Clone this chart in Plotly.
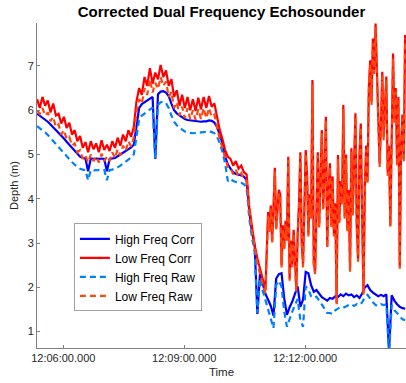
import pandas as pd
import plotly.graph_objects as go

# High-frequency channel: one ping every 4 s
t0 = pd.Timestamp("2021-06-15 12:05:21")
times = [t0 + pd.Timedelta(seconds=4 * i) for i in range(138)]

# Low-frequency channel: 4 s pings until 12:11:01, then 2 s pings
t_fine = pd.Timestamp("2021-06-15 12:11:05")
times_low = times[:86] + [t_fine + pd.Timedelta(seconds=2 * j) for j in range(103)]

high_freq_corr = [
    5.92, 5.88, 5.84, 5.79, 5.74, 5.68, 5.62, 5.56, 5.50, 5.43,
    5.36, 5.29, 5.22, 5.14, 5.07, 5.00, 4.95, 4.92, 4.91, 4.62,
    4.91, 4.90, 4.91, 4.90, 4.91, 4.90, 4.62, 4.90, 4.91, 4.92,
    4.96, 5.00, 5.04, 5.08, 5.12, 5.16, 5.22, 5.70, 6.05, 6.14,
    6.18, 6.22, 6.27, 6.30, 4.90, 6.36, 6.42, 6.43, 6.40, 6.32,
    6.15, 6.00, 5.93, 5.88, 5.84, 5.80, 5.78, 5.77, 5.76, 5.75,
    5.74, 5.74, 5.75, 5.75, 5.77, 5.76, 5.72, 5.62, 5.45, 5.25,
    4.95, 4.78, 4.68, 4.60, 4.56, 4.55, 4.53, 4.50, 4.42, 3.70,
    3.25, 2.95, 1.40, 2.32, 2.05, 1.85, 1.72, 1.58, 1.36, 2.20,
    2.30, 2.32, 1.75, 1.38, 1.55, 1.68, 1.85, 2.02, 1.56, 1.72,
    2.35, 2.32, 2.05, 1.90, 1.94, 1.86, 1.78, 1.74, 1.70, 1.76,
    1.74, 1.80, 1.78, 1.84, 1.80, 1.86, 1.82, 1.84, 1.78, 1.82,
    1.76, 1.86, 2.00, 2.05, 1.94, 1.88, 1.84, 1.80, 1.83, 1.80,
    1.84, 0.55, 1.82, 1.70, 1.62, 1.56, 1.53, 1.52,
]

high_freq_raw = [
    5.64, 5.60, 5.55, 5.50, 5.44, 5.37, 5.30, 5.23, 5.16, 5.09,
    5.02, 4.95, 4.89, 4.83, 4.77, 4.72, 4.68, 4.66, 4.65, 4.42,
    4.65, 4.64, 4.65, 4.65, 4.64, 4.65, 4.42, 4.65, 4.66, 4.68,
    4.71, 4.75, 4.79, 4.84, 4.88, 4.93, 5.00, 5.40, 5.80, 5.88,
    5.93, 5.98, 6.03, 6.06, 4.90, 6.12, 6.18, 6.19, 6.16, 6.05,
    5.88, 5.74, 5.66, 5.60, 5.56, 5.52, 5.50, 5.49, 5.48, 5.48,
    5.49, 5.50, 5.51, 5.51, 5.52, 5.51, 5.48, 5.40, 5.26, 5.06,
    4.80, 4.40, 4.45, 4.40, 4.38, 4.36, 4.36, 4.33, 4.25, 3.55,
    3.12, 2.80, 1.42, 2.20, 1.92, 1.70, 1.52, 1.30, 1.08, 2.05,
    2.15, 2.02, 1.45, 1.11, 1.30, 1.45, 1.60, 1.74, 1.26, 1.11,
    2.02, 1.95, 1.80, 1.76, 1.79, 1.70, 1.64, 1.52, 1.42, 1.42,
    1.40, 1.48, 1.52, 1.55, 1.54, 1.58, 1.60, 1.62, 1.58, 1.62,
    1.60, 1.66, 1.78, 1.83, 1.74, 1.66, 1.60, 1.58, 1.62, 1.60,
    1.62, 0.50, 1.60, 1.48, 1.42, 1.36, 1.28, 1.26,
]

low_freq_corr = [
    # 4 s pings
    6.25, 6.05, 6.30, 6.10, 6.22, 5.95, 6.15, 5.88, 5.92, 5.70,
    5.85, 5.60, 5.72, 5.45, 5.55, 5.30, 5.42, 5.15, 5.28, 5.05,
    5.30, 5.12, 5.25, 5.05, 5.32, 5.10, 5.22, 5.08, 5.30, 5.15,
    5.38, 5.20, 5.45, 5.30, 5.55, 5.40, 5.62, 6.20, 6.50, 6.35,
    6.75, 6.55, 6.95, 6.60, 6.85, 6.70, 7.02, 6.75, 6.90, 6.55,
    6.70, 6.30, 6.45, 6.10, 6.35, 6.05, 6.30, 6.00, 6.25, 5.98,
    6.28, 6.02, 6.30, 6.05, 6.32, 6.08, 6.15, 5.85, 5.55, 5.35,
    5.10, 4.95, 4.90, 4.75, 4.85, 4.68, 4.75, 4.60, 4.55, 3.80,
    3.35, 2.95, 2.65, 2.40, 2.15, 1.95,
    # 2 s pings
    3.70, 3.30, 3.85, 3.05, 3.80, 4.70, 3.35, 3.70, 4.20, 4.10,
    2.50, 3.40, 2.90, 3.50, 3.10, 4.95, 2.20, 3.05, 2.50, 3.30,
    2.60, 1.95, 3.20, 3.90, 5.05, 3.05, 2.50, 3.80, 5.10, 4.55,
    3.20, 4.10, 3.60, 6.68, 2.55, 2.35, 3.90, 5.05, 3.40, 4.30,
    5.55, 3.80, 4.60, 5.85, 2.92, 4.20, 4.80, 3.40, 4.50, 3.20,
    3.90, 1.65, 4.99, 3.50, 4.40, 3.90, 6.12, 3.60, 5.00, 3.30,
    4.20, 2.39, 5.14, 3.70, 4.60, 5.93, 3.40, 2.62, 5.00, 5.70,
    3.60, 1.87, 4.30, 5.20, 4.40, 6.53, 7.13, 6.20, 7.62, 6.90,
    7.96, 6.98, 5.60, 4.80, 5.70, 6.87, 5.40, 6.00, 6.76, 4.60,
    5.20, 3.40, 5.60, 7.28, 5.80, 6.50, 4.80, 6.30, 2.47, 5.20,
    5.90, 4.90, 7.70,
]

low_freq_raw = [
    # 4 s pings
    6.00, 5.92, 6.05, 5.88, 5.95, 5.75, 5.85, 5.62, 5.68, 5.45,
    5.55, 5.35, 5.40, 5.20, 5.25, 5.05, 5.10, 4.90, 4.98, 4.82,
    5.00, 4.85, 4.95, 4.82, 5.02, 4.85, 4.95, 4.85, 5.05, 4.92,
    5.12, 4.98, 5.20, 5.08, 5.30, 5.18, 5.38, 5.95, 6.25, 6.15,
    6.50, 6.35, 6.70, 6.40, 6.62, 6.48, 6.75, 6.55, 6.65, 6.30,
    6.42, 6.05, 6.18, 5.88, 6.08, 5.82, 6.05, 5.80, 6.00, 5.78,
    6.02, 5.80, 6.05, 5.82, 6.05, 5.85, 5.90, 5.62, 5.35, 5.15,
    4.92, 4.72, 4.70, 4.55, 4.65, 4.50, 4.58, 4.45, 4.40, 3.72,
    3.28, 2.88, 2.55, 2.30, 2.05, 1.85,
    # 2 s pings
    3.62, 3.25, 3.78, 3.00, 3.72, 4.62, 3.30, 3.62, 4.12, 4.02,
    2.45, 3.32, 2.85, 3.42, 3.05, 4.88, 2.15, 2.98, 2.45, 3.22,
    2.55, 1.90, 3.12, 3.82, 4.98, 3.00, 2.45, 3.72, 5.02, 4.48,
    3.15, 4.02, 3.55, 6.58, 2.50, 2.30, 3.82, 4.98, 3.35, 4.22,
    5.48, 3.72, 4.52, 5.78, 2.88, 4.12, 4.72, 3.35, 4.42, 3.15,
    3.82, 1.62, 4.90, 3.45, 4.32, 3.85, 6.02, 3.55, 4.92, 3.25,
    4.12, 2.35, 5.06, 3.62, 4.52, 5.85, 3.35, 2.58, 4.92, 5.62,
    3.55, 1.82, 4.22, 5.12, 4.32, 6.45, 7.05, 6.12, 7.52, 6.82,
    7.88, 6.90, 5.52, 4.72, 5.62, 6.78, 5.32, 5.92, 6.68, 4.52,
    5.12, 3.35, 5.52, 7.18, 5.72, 6.42, 4.72, 6.22, 2.42, 5.12,
    5.82, 4.82, 7.62,
]

series = [
    ("High Freq Corr", times, high_freq_corr, "#0000FF", "solid"),
    ("Low Freq Corr", times_low, low_freq_corr, "#FF0000", "solid"),
    ("High Freq Raw", times, high_freq_raw, "#0080FF", "6px,4px"),
    ("Low Freq Raw", times_low, low_freq_raw, "#FF4510", "6px,4px"),
]

fig = go.Figure()
for name, xs, vals, color, dash in series:
    fig.add_trace(go.Scatter(
        x=xs, y=vals, name=name, mode="lines",
        line=dict(color=color, width=2.2, dash=dash),
    ))

font_family = "Liberation Sans, Arial, sans-serif"
axis_font = dict(family=font_family, size=11, color="#262626")

fig.update_layout(
    width=406, height=383,
    margin=dict(l=37, r=0, t=23, b=35),
    paper_bgcolor="white", plot_bgcolor="white",
    font=dict(family=font_family, color="#262626"),
    title=dict(
        text="<b>Corrected Dual Frequency Echosounder</b>",
        font=dict(family=font_family, size=15, color="black"),
        x=(37 + 406) / 2 / 406, xanchor="center", y=1 - 12 / 383, yanchor="middle",
    ),
    legend=dict(
        x=0.1, y=0.248, xanchor="left", yanchor="middle",
        bgcolor="white", bordercolor="#a0a0a0", borderwidth=1,
        font=dict(family=font_family, size=12, color="black"),
    ),
    showlegend=True,
)

fig.update_xaxes(
    range=["2021-06-15 12:05:20.9", "2021-06-15 12:14:30.3"],
    tick0="2021-06-15 12:00:00", dtick=180000,
    tickformat="%H:%M:%S.%L",
    ticks="inside", ticklen=3, tickcolor="#808080",
    showline=True, linecolor="#808080", linewidth=1,
    showgrid=False, zeroline=False,
    tickfont=axis_font,
    title=dict(text="Time", font=dict(size=11.5, color="#262626"), standoff=4),
)
fig.update_yaxes(
    range=[0.63, 7.97], dtick=1, tick0=0,
    ticks="inside", ticklen=3, tickcolor="#808080",
    showline=True, linecolor="#808080", linewidth=1,
    showgrid=False, zeroline=False,
    tickfont=axis_font,
    title=dict(text="Depth (m)", font=dict(size=11, color="#262626"), standoff=6),
)

fig.write_html("out.html")
